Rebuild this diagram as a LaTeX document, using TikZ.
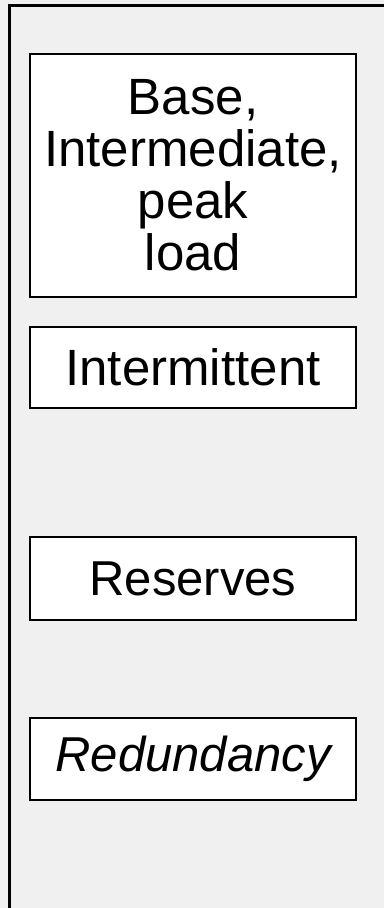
\documentclass[tikz,border=0pt]{standalone}
\usepackage{fontspec}
\setmainfont{Liberation Sans}
\begin{document}
\begin{tikzpicture}[x=1pt,y=-1pt,
  panel/.style={draw=black, line width=2.6pt, fill=white},
  label/.style={font=\fontsize{49}{52}\selectfont, align=center, inner sep=0pt}]
  % page background with a light dotted tint
  \fill[black!6] (0,0) rectangle (384,908);
  \useasboundingbox (0,0) rectangle (384,908);
  % outer frame, open to the right and bottom
  \draw[line width=3pt] (9.5,908) -- (9.5,5) -- (384,5);
  % boxes
  \draw[panel] (30,54) rectangle (356,297);
  \draw[panel] (30,327) rectangle (356,408);
  \draw[panel] (30,537) rectangle (356,620);
  \draw[panel] (30,718) rectangle (356,800);
  % labels
  \node[label, font=\fontsize{51}{52}\selectfont] (load) at (193,175.5) {Base,\\Intermediate,\\peak\\load};
  \node[label, font=\fontsize{51}{52}\selectfont] (intermittent) at (193,367.5) {Intermittent};
  \node[label] (reserves) at (193,578.5) {Reserves};
  \node[label] (redundancy) at (193,759) {\itshape Redundancy};
\end{tikzpicture}
\end{document}
